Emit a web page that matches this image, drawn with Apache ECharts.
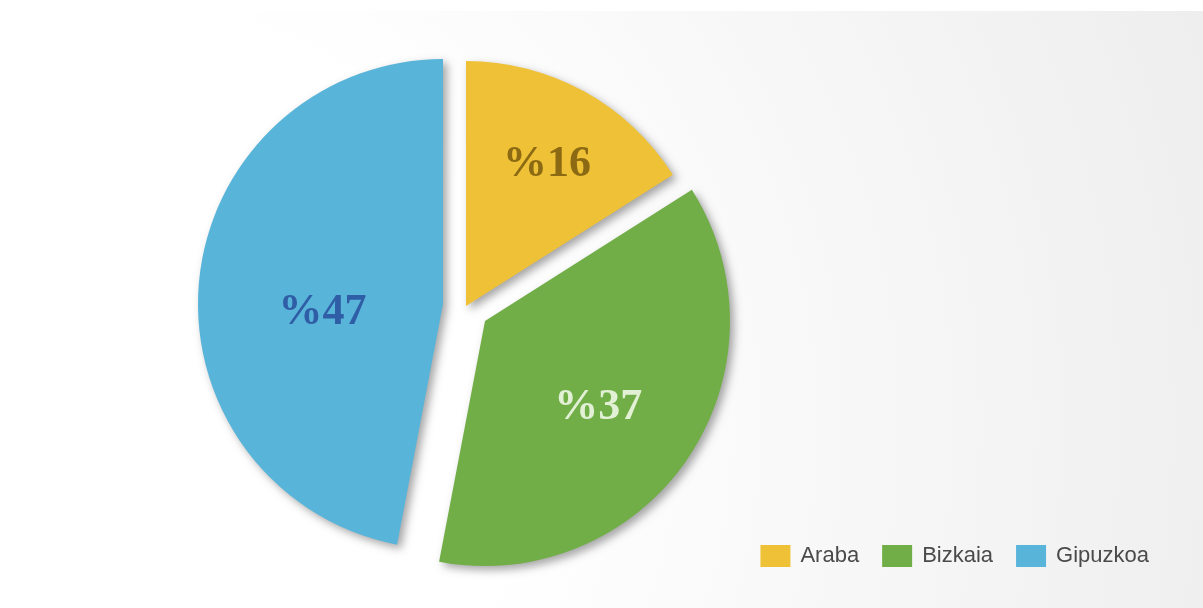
<!DOCTYPE html>
<html>
<head>
<meta charset="utf-8">
<script src="https://cdn.jsdelivr.net/npm/echarts@6/dist/echarts.min.js"></script>
<style>
html,body{margin:0;padding:0;background:#fff;}
#chart{width:1203px;height:608px;}
</style>
</head>
<body>
<div id="chart"></div>
<script>
// ---- data ----
const categories = ['Araba', 'Bizkaia', 'Gipuzkoa'];
const values = [16, 37, 47];
const valueLabels = ['%16', '%37', '%47'];

// ---- styles / layout ----
const sliceColors = ['#EFC136', '#72AE48', '#59B4DA'];
const labelColors = ['#8C6A14', '#E2F1D6', '#2F5EA6'];
const sliceCenters = [[466, 306], [485, 321], [443, 304]];
const labelInner = [85, 23, 0];
const labelOuter = [245, 245, 236];
const labelShiftY = [6, 10, 20];
const R = 245;

const chart = echarts.init(document.getElementById('chart'), null, {renderer: 'canvas'});

const series = [];
categories.forEach((cat, i) => {
  series.push({
    type: 'pie',
    center: sliceCenters[i],
    radius: [0, R],
    startAngle: 90,
    clockwise: true,
    silent: true,
    animation: false,
    label: {show: false},
    labelLine: {show: false},
    emphasis: {disabled: true},
    z: 2,
    data: categories.map((n, j) => ({
      name: n,
      value: values[j],
      itemStyle: j === i ? {
        color: sliceColors[j], borderWidth: 0,
        shadowBlur: 8, shadowOffsetX: 4, shadowOffsetY: 4, shadowColor: 'rgba(0,0,0,0.35)'
      } : {color: 'rgba(0,0,0,0)', borderWidth: 0}
    }))
  });
});
categories.forEach((cat, i) => {
  series.push({
    type: 'pie',
    center: sliceCenters[i],
    radius: [labelInner[i], labelOuter[i]],
    startAngle: 90,
    clockwise: true,
    silent: true,
    animation: false,
    labelLine: {show: false},
    labelLayout: {dy: labelShiftY[i]},
    emphasis: {disabled: true},
    z: 3,
    data: categories.map((n, j) => ({
      name: n,
      value: values[j],
      itemStyle: {color: 'rgba(0,0,0,0)', borderWidth: 0},
      label: j === i ? {
        show: true, position: 'inside', formatter: valueLabels[j],
        color: labelColors[j], fontFamily: 'Liberation Serif', fontWeight: 'bold', fontSize: 44
      } : {show: false}
    }))
  });
});

chart.setOption({
  animation: false,
  backgroundColor: '#ffffff',
  graphic: [{
    type: 'rect', silent: true, z: -10,
    shape: {x: 75, y: 11, width: 1128, height: 597},
    style: {
      fill: {
        type: 'radial', x: 120, y: 420, r: 1150, global: true,
        colorStops: [
          {offset: 0, color: '#ffffff'},
          {offset: 0.35, color: '#ffffff'},
          {offset: 1, color: '#eeeeee'}
        ]
      }
    }
  }],
  legend: {
    data: categories.map((n, j) => ({name: n, itemStyle: {color: sliceColors[j]}})),
    icon: 'rect',
    right: 49,
    top: 540,
    itemWidth: 30,
    itemHeight: 22,
    itemGap: 23,
    selectedMode: false,
    textStyle: {fontFamily: 'Liberation Sans', fontSize: 22, color: '#4a4a4a', padding: [0, 0, 0, 5]}
  },
  series: series
});
</script>
</body>
</html>
